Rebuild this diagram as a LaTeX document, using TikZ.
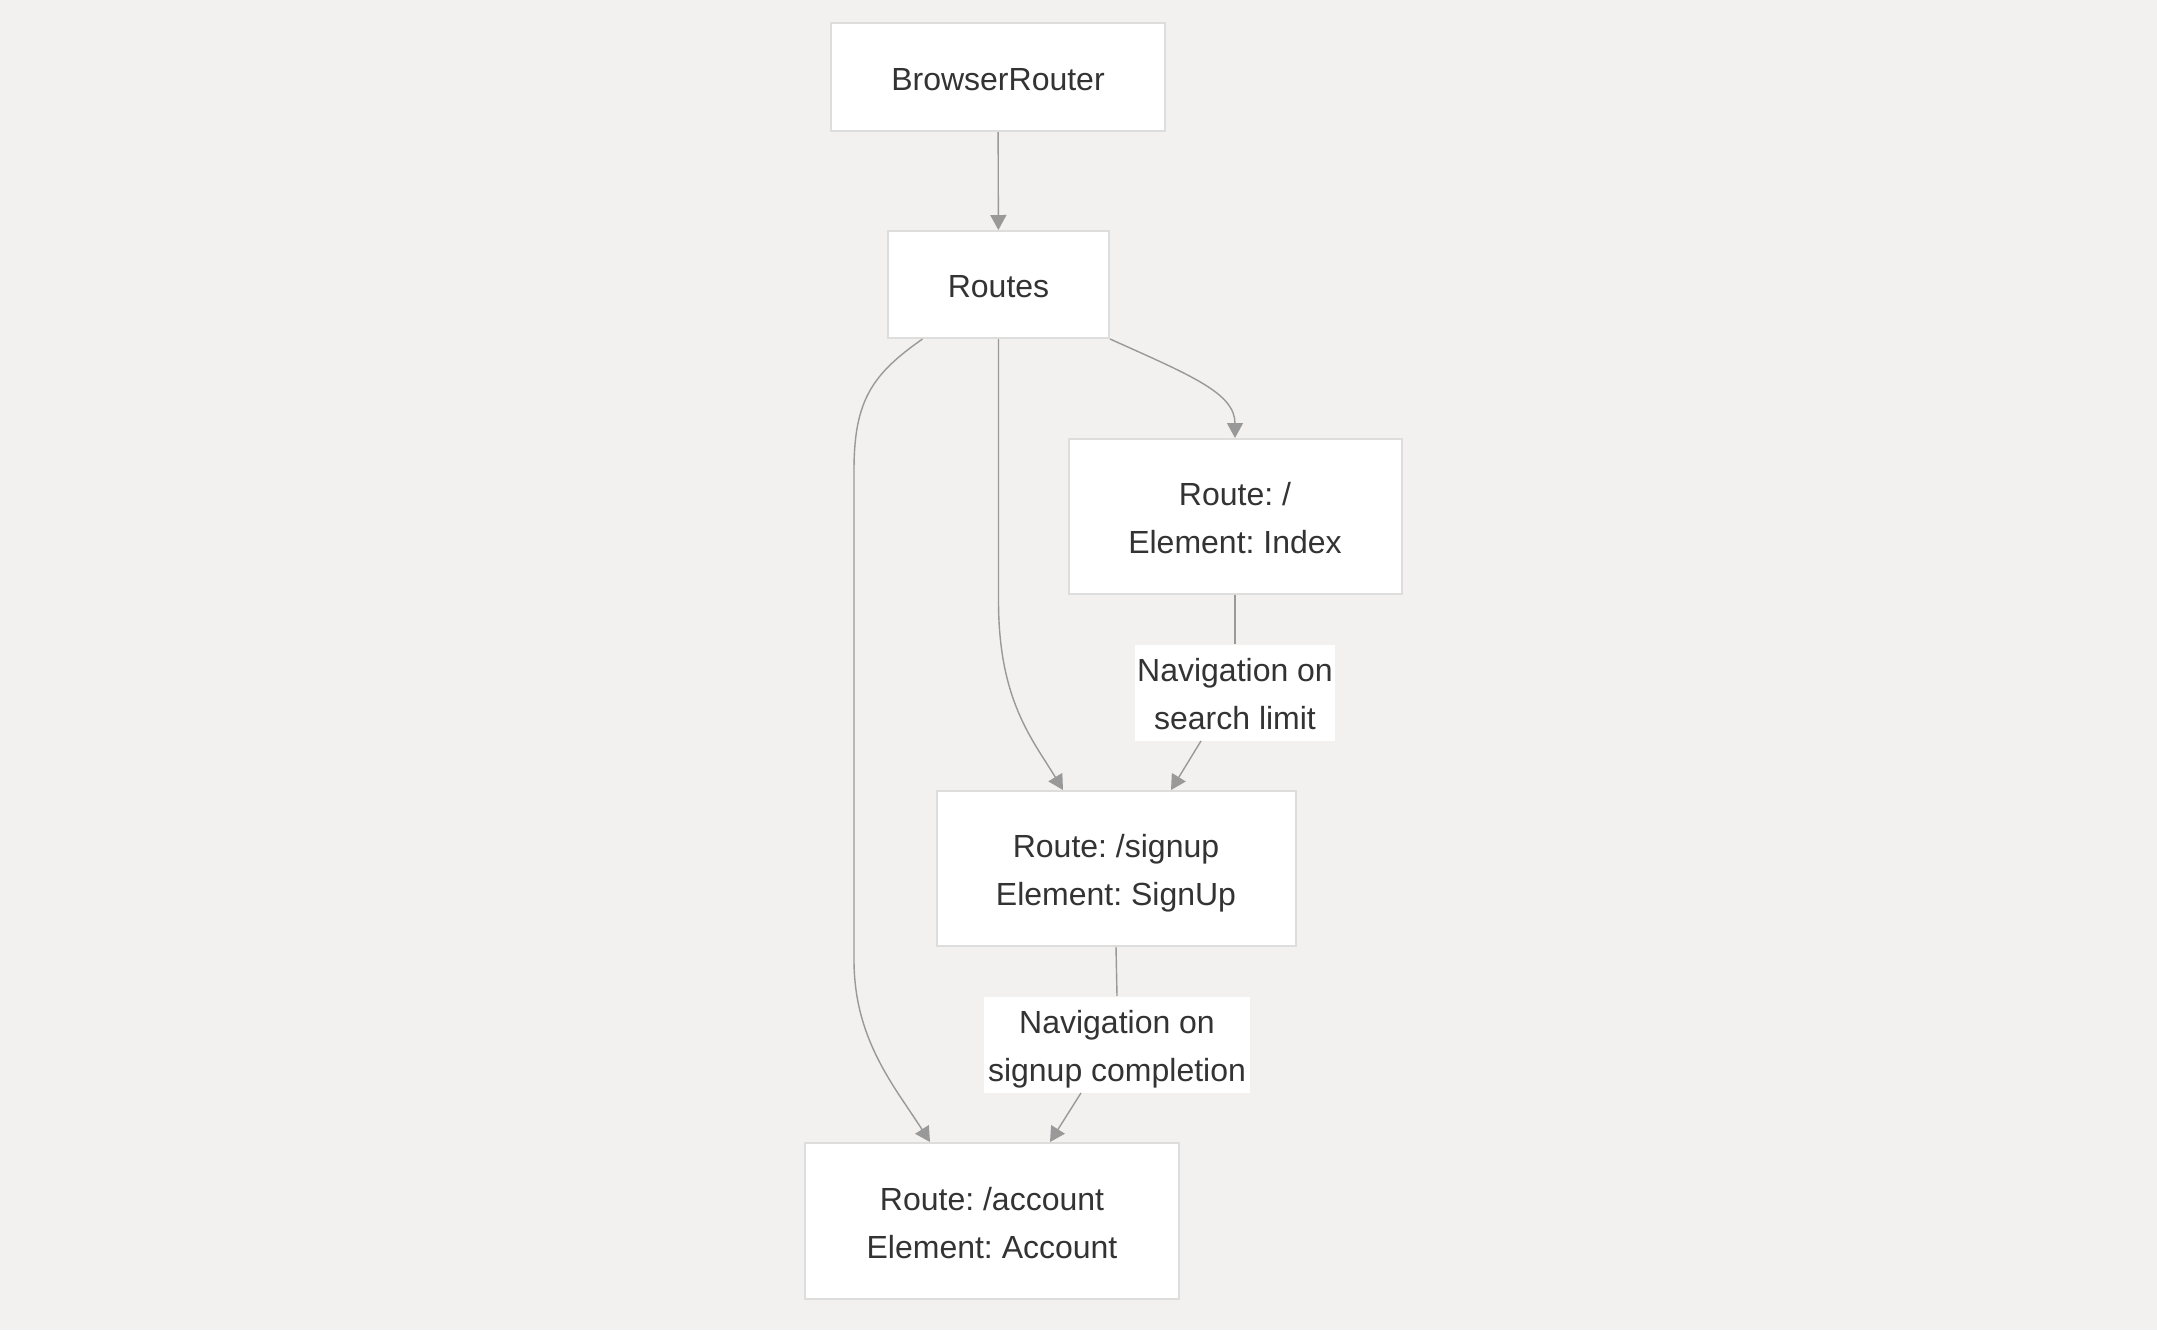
\documentclass[tikz,border=0pt]{standalone}
\usepackage{fontspec}
\setmainfont{Liberation Sans}
\usetikzlibrary{arrows.meta,calc}
\definecolor{canvas}{RGB}{242,241,239}
\definecolor{boxline}{RGB}{221,221,221}
\definecolor{edgegray}{RGB}{153,153,153}
\definecolor{ink}{RGB}{51,51,51}
\frenchspacing

\begin{document}
\begin{tikzpicture}[x=0.5pt,y=-0.5pt,>={Triangle[length=7.5pt,width=8pt]},
  font=\fontsize{16}{24}\selectfont,text=ink,
  box/.style={draw=boxline,line width=1pt,fill=white,align=center,inner sep=0pt,
    text height=18.5pt,text depth=5.5pt},
  twoline/.style={text height=42.5pt},
  lbl/.style={fill=white,align=center,inner xsep=1pt,inner ysep=0pt,minimum height=47.5pt,
    text height=42.5pt,text depth=5.5pt},
  edge/.style={->,draw=edgegray,line width=0.7pt}]
  \fill[canvas] (0,0) rectangle (2157,1330);
  \useasboundingbox (0,0) rectangle (2157,1330);

  % route tree
  \node[box,minimum width=167pt,minimum height=54pt] (browser) at (998,77) {BrowserRouter};
  \node[box,minimum width=110.5pt,minimum height=53.5pt] (routes) at (998.5,284.5) {Routes};
  \node[box,twoline,minimum width=166.5pt,minimum height=77.5pt] (index) at (1235,516.5) {Route: /\\Element: Index};
  \node[box,twoline,minimum width=179.5pt,minimum height=77.5pt] (signup) at (1116,868.5) {Route: /signup\\Element: SignUp};
  \node[box,twoline,minimum width=187pt,minimum height=78pt] (account) at (992,1221) {Route: /account\\Element: Account};

  % edge labels
  \node[lbl,minimum width=99pt] (navsearch) at (1235,692.5) {Navigation on\\search limit};
  \node[lbl,minimum width=133pt] (navsignup) at (1117,1044.5) {Navigation on\\signup completion};

  \draw[edge] (browser) -- (routes);
  \draw[edge] (routes.south east) .. controls +(80,36) and +(0,-45) .. (index.north);
  \draw[edge] (routes.south) -- ++(0,262) .. controls +(0,100) and +(-30,-50) .. ($(signup.north)+(-53,0)$);
  \draw[edge] ($(routes.south)+(-76,0)$) .. controls +(-50,35) and +(0,-70) .. (854,470)
    -- (854,960) .. controls +(0,80) and +(-35,-55) .. ($(account.north)+(-62,0)$);

  \draw[edge,-] (index.south) -- (navsearch.north);
  \draw[edge] ($(navsearch.south)+(-34,0)$) -- ($(signup.north)+(55,0)$);
  \draw[edge,-] (signup.south) -- (navsignup.north);
  \draw[edge] ($(navsignup.south)+(-36,0)$) -- ($(account.north)+(58,0)$);
\end{tikzpicture}
\end{document}
